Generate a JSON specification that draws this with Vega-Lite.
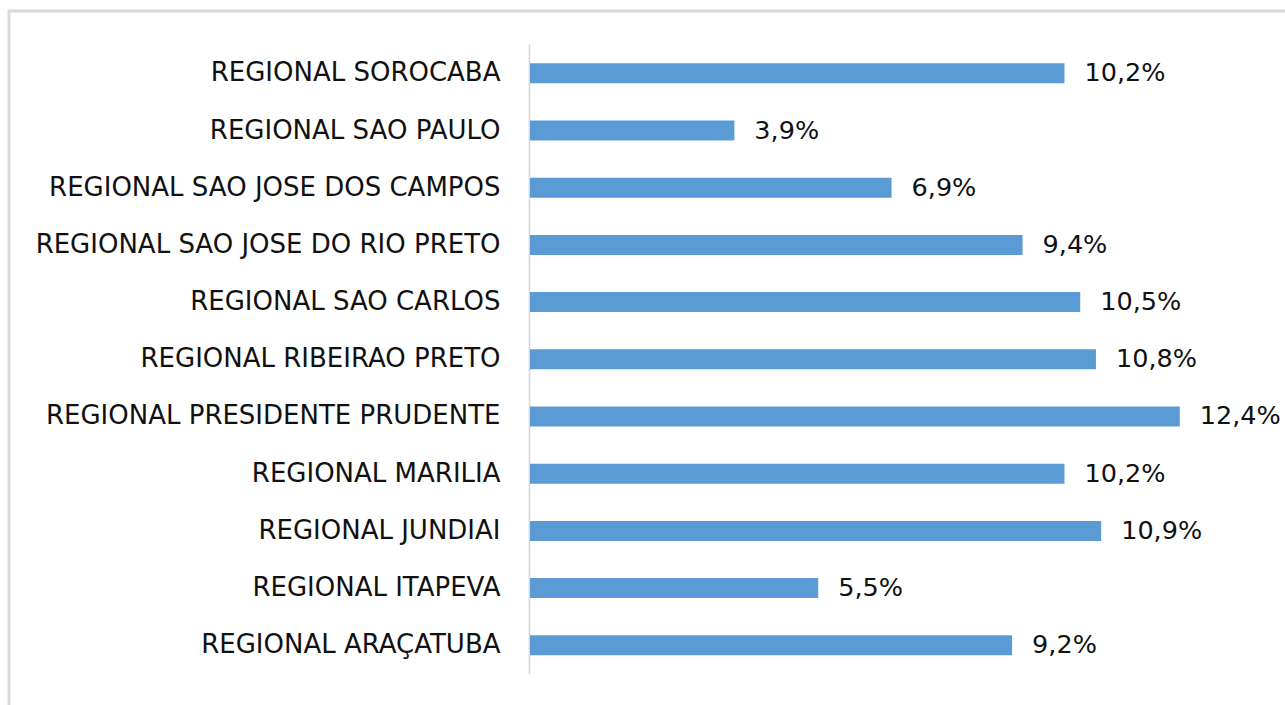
{
  "$schema": "https://vega.github.io/schema/vega-lite/v6.json",
  "width": 1285,
  "height": 700,
  "autosize": {"type": "none"},
  "padding": {"left": 9, "top": 11, "right": 0, "bottom": 0},
  "background": "white",
  "config": {
    "locale": {"number": {"decimal": ",", "thousands": ".", "grouping": [3], "currency": ["R$", ""]}},
    "view": {"stroke": "#D9D9D9", "strokeWidth": 3},
    "font": "DejaVu Sans"
  },
  "data": {
    "values": [
      {"regional": "REGIONAL SOROCABA", "pct": 0.102},
      {"regional": "REGIONAL SAO PAULO", "pct": 0.039},
      {"regional": "REGIONAL SAO JOSE DOS CAMPOS", "pct": 0.069},
      {"regional": "REGIONAL SAO JOSE DO RIO PRETO", "pct": 0.094},
      {"regional": "REGIONAL SAO CARLOS", "pct": 0.105},
      {"regional": "REGIONAL RIBEIRAO PRETO", "pct": 0.108},
      {"regional": "REGIONAL PRESIDENTE PRUDENTE", "pct": 0.124},
      {"regional": "REGIONAL MARILIA", "pct": 0.102},
      {"regional": "REGIONAL JUNDIAI", "pct": 0.109},
      {"regional": "REGIONAL ITAPEVA", "pct": 0.055},
      {"regional": "REGIONAL ARAÇATUBA", "pct": 0.092}
    ]
  },
  "encoding": {
    "y": {
      "field": "regional",
      "type": "nominal",
      "sort": null,
      "scale": {"paddingInner": 0, "paddingOuter": 0.619, "align": 0.476},
      "axis": {
        "title": null,
        "offset": -521,
        "domain": false,
        "ticks": false,
        "tickSize": 0,
        "labelPadding": 30,
        "labelFontSize": 26,
        "labelFont": "DejaVu Sans",
        "labelColor": "#111111",
        "labelLimit": 600,
        "grid": false
      }
    }
  },
  "layer": [
    {
      "mark": {"type": "bar", "color": "#D9D9D9", "stroke": "#D9D9D9", "strokeWidth": 0.6, "height": {"band": 1}},
      "encoding": {
        "x": {"datum": -0.0002, "type": "quantitative", "scale": {"domain": [-0.09943, 0.1458], "nice": false, "zero": false}, "axis": null},
        "x2": {"datum": 0}
      }
    },
    {
      "mark": {"type": "bar", "color": "#5B9BD5", "height": {"band": 0.35}},
      "encoding": {
        "x": {"field": "pct", "type": "quantitative", "axis": null}
      }
    },
    {
      "mark": {"type": "text", "align": "left", "baseline": "middle", "dx": 20, "fontSize": 25.5, "font": "DejaVu Sans", "color": "#111111"},
      "encoding": {
        "x": {"field": "pct", "type": "quantitative"},
        "text": {"field": "pct", "type": "quantitative", "format": ".1%"}
      }
    }
  ]
}
